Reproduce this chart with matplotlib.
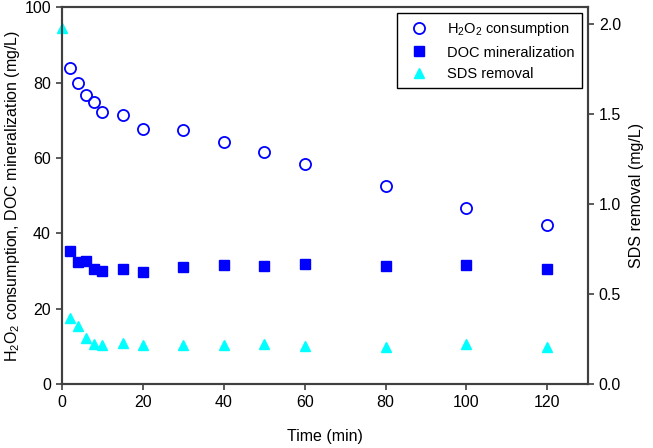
import matplotlib
matplotlib.use('Agg')
import matplotlib.pyplot as plt

plt.rcParams['font.family'] = ['Liberation Sans', 'DejaVu Sans']
plt.rcParams['mathtext.fontset'] = 'custom'
plt.rcParams['mathtext.rm'] = 'Liberation Sans'
plt.rcParams['mathtext.it'] = 'Liberation Sans'

# time points (min)
time_main = [2, 4, 6, 8, 10, 15, 20, 30, 40, 50, 60, 80, 100, 120]
time_sds = [0, 2, 4, 6, 8, 10, 15, 20, 30, 40, 50, 60, 80, 100, 120]

h2o2 = [83.9, 79.8, 76.8, 74.9, 72.1, 71.5, 67.6, 67.4, 64.1, 61.5, 58.4,
        52.6, 46.8, 42.2]
doc = [35.3, 32.4, 32.6, 30.6, 30.1, 30.4, 29.6, 31.0, 31.5, 31.2, 31.9,
       31.4, 31.5, 30.4]
sds = [1.98, 0.368, 0.322, 0.257, 0.222, 0.217, 0.226, 0.217, 0.217, 0.214,
       0.222, 0.211, 0.207, 0.222, 0.207]

SPINE = '#404040'

fig = plt.figure(figsize=(6.53, 4.48), dpi=100)
ax = fig.add_axes([0.095, 0.143, 0.805, 0.841])
ax2 = ax.twinx()

h1, = ax.plot(time_main, h2o2, 'o', mfc='none', mec='#0000ff', mew=1.3,
              ms=8, linestyle='none', label='H$_2$O$_2$ consumption')
h2, = ax.plot(time_main, doc, 's', color='#0000ff', ms=7, linestyle='none',
              label='DOC mineralization')
h3, = ax2.plot(time_sds, sds, '^', color='#00ffff', ms=7.5, linestyle='none',
               label='SDS removal', clip_on=False)

ax.set_xlim(0, 130)
ax.set_ylim(0, 100)
ax2.set_ylim(0, 2.094)
ax.set_xticks(range(0, 121, 20))
ax.set_yticks(range(0, 101, 20))
ax2.set_yticks([0.0, 0.5, 1.0, 1.5, 2.0])
ax2.set_yticklabels(['0.0', '0.5', '1.0', '1.5', '2.0'])

for a in (ax, ax2):
    for s in a.spines.values():
        s.set_color(SPINE)
        s.set_linewidth(1.5)
    a.tick_params(direction='out', length=4, width=1.2, color=SPINE,
                  labelsize=11.5, labelcolor='black', pad=4)

ax.set_xlabel('Time (min)', fontsize=11.5, labelpad=14)
ax.set_ylabel('H$_2$O$_2$ consumption, DOC mineralization (mg/L)',
              fontsize=11.5, labelpad=2)
ax2.set_ylabel('SDS removal (mg/L)', fontsize=11.5, labelpad=6)

leg = ax.legend(handles=[h1, h2, h3], loc='upper right', fontsize=10.5,
                fancybox=False, framealpha=1, edgecolor='black',
                borderaxespad=0.4, handletextpad=0.9, borderpad=0.5)
leg.get_frame().set_linewidth(1.0)

fig.savefig('out.png', dpi=100, facecolor='white')
